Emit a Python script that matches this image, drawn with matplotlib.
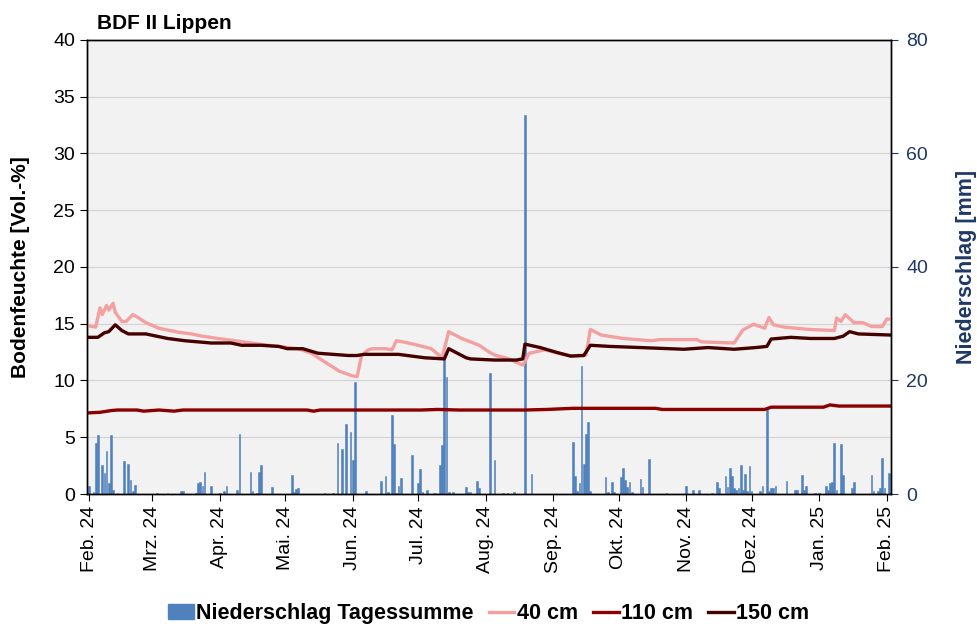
import numpy as np
import pandas as pd
import matplotlib
matplotlib.use("Agg")
import matplotlib.pyplot as plt
from matplotlib.ticker import MultipleLocator
from matplotlib.patches import Patch
from matplotlib.lines import Line2D

plt.rcParams['font.family'] = ['Liberation Sans', 'DejaVu Sans']

start = np.datetime64('2024-02-01')

# daily precipitation (days since 1 Feb 2024, mm)
rain_day = [0, 2, 3, 4, 6, 7, 8, 9, 10, 11, 13, 16, 18, 19, 20, 21, 31, 36, 42, 43,
            49, 50, 51, 52, 53, 56, 60, 62, 63, 68, 69, 74, 75, 77, 78, 79, 84,
            93, 94, 95, 96, 108, 112, 114, 116, 118, 120, 121, 122, 127, 134, 136,
            137, 139, 140, 141, 142, 143, 148, 151, 152, 153, 155, 158, 159, 161,
            162, 163, 164, 165, 167, 173, 174, 175, 178, 179, 184, 186, 190, 192,
            195, 200, 203, 222, 223, 224, 225, 226, 227, 228, 229, 230, 237, 238,
            240, 241, 244, 245, 246, 247, 248, 249, 253, 254, 257, 265, 274, 277,
            280, 286, 288, 289, 292, 293, 294, 295, 296, 297, 298, 299, 300, 301,
            302, 303, 304, 308, 309, 311, 312, 313, 314, 315, 320, 324, 325, 327,
            328, 329, 333, 335, 338, 339, 340, 341, 342, 343, 345, 346, 350, 351,
            359, 360, 362, 363, 364, 365, 367]
rain_mm = [1.4, 0.3, 9.0, 10.4, 5.1, 3.7, 7.5, 2.0, 10.4, 0.7, 0.2, 5.8, 5.3, 2.5, 0.5, 1.6, 0.2, 0.2, 0.6, 0.6,
           0.2, 1.9, 2.2, 1.5, 3.9, 1.4, 0.2, 0.5, 1.5, 0.8, 10.6, 3.9, 0.5, 0.2, 3.9, 5.1, 1.2,
           3.3, 0.4, 0.9, 1.1, 0.2, 0.2, 9.0, 8.0, 12.4, 11.0, 6.0, 19.7, 0.5, 2.3, 3.2,
           0.4, 13.9, 8.8, 0.2, 1.4, 2.8, 6.9, 1.9, 4.5, 0.3, 0.8, 0.2, 0.2, 5.1,
           8.6, 24.1, 20.7, 0.3, 0.3, 1.3, 0.4, 0.3, 2.3, 1.0, 21.3, 6.0, 0.2, 0.2,
           0.3, 66.8, 3.5, 9.2, 3.2, 0.5, 1.9, 22.6, 5.3, 10.6, 12.7, 0.5, 3.0, 0.4,
           2.2, 0.4, 3.0, 4.6, 2.5, 1.2, 2.2, 0.4, 2.6, 1.3, 6.2, 0.2, 1.4, 0.8,
           0.7, 0.2, 2.1, 1.1, 3.2, 1.3, 4.6, 3.2, 1.1, 0.8, 1.1, 5.1, 0.8, 3.5,
           0.6, 5.0, 0.6, 0.6, 1.4, 15.4, 0.6, 1.0, 1.0, 1.5, 2.3, 0.8, 0.7, 3.3,
           0.8, 1.5, 0.2, 0.2, 1.4, 0.8, 1.9, 2.2, 9.0, 0.7, 8.8, 3.3, 1.0, 2.2,
           3.3, 0.6, 0.6, 1.1, 6.4, 1.1, 3.7]

# soil moisture, 40 cm
d40_day = [0, 3, 5, 6, 8, 9, 11, 12, 15, 17, 20, 22, 26, 32, 41, 47, 52, 59, 67, 78,
           87, 96, 102, 108, 115, 121, 123, 125, 128, 130, 136, 139, 141, 144, 151,
           157, 162, 165, 171, 179, 184, 186, 192, 199, 202, 209, 221, 228, 230, 235,
           245, 258, 262, 279, 281, 296, 300, 305, 310, 312, 314, 319, 330, 342, 343,
           345, 347, 351, 355, 359, 364, 366, 368]
d40_val = [14.8, 14.7, 16.4, 15.8, 16.6, 16.2, 16.8, 16.0, 15.2, 15.2, 15.8, 15.6, 15.1, 14.6, 14.25, 14.1, 13.9, 13.7, 13.5, 13.2,
           13.0, 12.8, 12.4, 11.65, 10.8, 10.4, 10.35, 12.15, 12.7, 12.8, 12.8, 12.7, 13.5, 13.4, 13.1,
           12.8, 12.0, 14.3, 13.7, 13.1, 12.45, 12.25, 11.95, 11.35, 12.4, 12.7, 12.15, 12.25, 14.5, 14.0,
           13.7, 13.5, 13.6, 13.6, 13.4, 13.3, 14.45, 14.95, 14.6, 15.55, 14.9, 14.7, 14.5, 14.4, 15.5,
           15.2, 15.8, 15.1, 15.1, 14.75, 14.75, 15.4, 15.4]

# soil moisture, 110 cm
d110_day = [0, 5, 10, 13, 22, 25, 32, 39, 43, 100, 103, 106, 152, 160, 170, 200, 210, 222,
            260, 263, 310, 313, 337, 340, 344, 368]
d110_val = [7.15, 7.2, 7.35, 7.4, 7.4, 7.3, 7.4, 7.3, 7.4, 7.4, 7.3, 7.4, 7.4, 7.45, 7.4, 7.4, 7.45, 7.55,
            7.55, 7.45, 7.45, 7.65, 7.65, 7.85, 7.75, 7.75]

# soil moisture, 150 cm
d150_day = [0, 4, 7, 9, 12, 15, 18, 26, 36, 44, 56, 65, 70, 79, 87, 91, 98, 105, 119, 123,
            126, 142, 154, 163, 165, 170, 173, 175, 186, 196, 199, 200, 207, 215, 221, 227,
            228, 230, 239, 253, 273, 284, 296, 306, 311, 313, 322, 331, 342, 346, 349, 353, 368]
d150_val = [13.8, 13.8, 14.2, 14.3, 14.9, 14.4, 14.1, 14.1, 13.7, 13.5, 13.3, 13.3, 13.1, 13.1, 13.0, 12.8, 12.8, 12.4, 12.2, 12.2,
            12.3, 12.3, 12.0, 11.9, 12.8, 12.3, 12.0, 11.9, 11.8, 11.8, 11.9, 13.2, 12.9, 12.45, 12.15, 12.2,
            12.5, 13.1, 13.0, 12.9, 12.75, 12.9, 12.75, 12.9, 13.0, 13.65, 13.8, 13.7, 13.7, 13.9, 14.3, 14.1, 14.0]

month_labels = ['Feb. 24', 'Mrz. 24', 'Apr. 24', 'Mai. 24', 'Jun. 24', 'Jul. 24', 'Aug. 24',
                'Sep. 24', 'Okt. 24', 'Nov. 24', 'Dez. 24', 'Jan. 25', 'Feb. 25']

def to_dates(days):
    return start + np.array(days).astype('timedelta64[D]')

c_rain = '#4f81bd'
c40 = '#f4a0a0'
c110 = '#8b0000'
c150 = '#450000'
c_right = '#1f3864'

fig = plt.figure(figsize=(9.77, 6.31), dpi=100)
ax2 = fig.add_axes([0.089, 0.217, 0.823, 0.720])
ax1 = ax2.twinx()
ax1.yaxis.tick_left()
ax1.yaxis.set_label_position('left')
ax2.yaxis.tick_right()
ax2.yaxis.set_label_position('right')
ax1.set_zorder(ax2.get_zorder() + 1)
ax1.patch.set_visible(False)
ax2.set_facecolor('#f2f2f2')

# precipitation bars (right axis)
ax2.bar(to_dates(rain_day), rain_mm, width=0.8, color=c_rain, edgecolor=c_rain,
        linewidth=0.4, zorder=2)
ax2.set_ylim(0, 80)
ax2.yaxis.set_major_locator(MultipleLocator(20))
ax2.yaxis.set_minor_locator(MultipleLocator(10))
ax2.grid(axis='y', which='both', color='#d4d4d4', linewidth=0.9, zorder=0)
ax2.set_axisbelow(True)
ax2.tick_params(axis='y', which='major', colors=c_right, labelsize=14, length=5,
                direction='out', pad=6)
ax2.tick_params(axis='y', which='minor', length=0)
ax2.set_ylabel('Niederschlag [mm]', color=c_right, fontsize=15.5, fontweight='bold', labelpad=20)

# soil moisture lines (left axis)
ax1.plot(to_dates(d40_day), d40_val, color=c40, lw=2.4)
ax1.plot(to_dates(d110_day), d110_val, color=c110, lw=2.4)
ax1.plot(to_dates(d150_day), d150_val, color=c150, lw=2.4)
ax1.set_ylim(0, 40)
ax1.yaxis.set_major_locator(MultipleLocator(5))
ax1.tick_params(axis='y', labelsize=14, length=5, direction='out', colors='black')
ax1.set_ylabel('Bodenfeuchte [Vol.-%]', fontsize=15, fontweight='bold', labelpad=17)

ticks = pd.date_range('2024-02-01', '2025-02-01', freq='MS')
ax2.set_xticks(ticks)
ax2.set_xticklabels(month_labels, rotation=90, fontsize=14)
ax2.tick_params(axis='x', length=5, direction='out')
ax2.set_xlim(start - np.timedelta64(1, 'D'), start + np.timedelta64(368, 'D'))

for ax in (ax1, ax2):
    for s in ax.spines.values():
        s.set_color('black')
        s.set_linewidth(1.0)

fig.text(0.099, 0.962, 'BDF II Lippen', fontsize=15, fontweight='bold', va='center')

handles = [Patch(color=c_rain, label='Niederschlag Tagessumme'),
           Line2D([], [], color=c40, lw=2.4, label='40 cm'),
           Line2D([], [], color=c110, lw=2.4, label='110 cm'),
           Line2D([], [], color=c150, lw=2.4, label='150 cm')]
fig.legend(handles=handles, loc='center', bbox_to_anchor=(0.5, 0.027), ncol=4, frameon=False,
           prop={'size': 15.5, 'weight': 'bold'}, handlelength=1.2, handletextpad=0.1,
           columnspacing=0.7)

fig.savefig('out.png', dpi=100)
